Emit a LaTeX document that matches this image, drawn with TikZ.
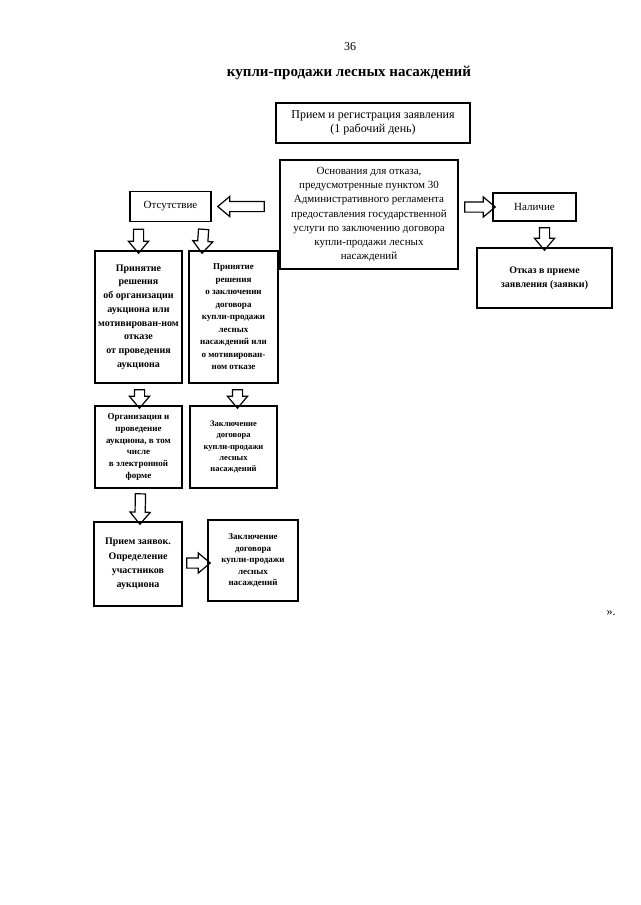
\documentclass[tikz,border=0pt]{standalone}
\usepackage{fontspec}
\setmainfont{Liberation Serif}
\usetikzlibrary{calc, shapes.arrows}

\tikzset{
  box/.style={draw, line width=1.6pt, align=center, inner sep=1pt},
  barrow/.style={single arrow, draw, line width=1.2pt, inner xsep=0pt, inner ysep=4.5pt,
    minimum width=19pt, single arrow head extend=5pt, single arrow tip angle=80,
    single arrow head indent=0pt}
}
% hollow block arrow between two points
\newcommand{\blockarrow}[2]{%
  \path let \p1=#1, \p2=#2, \n1={veclen(\x2-\x1,\y2-\y1)}, \n2={atan2(\y2-\y1,\x2-\x1)} in
    node[barrow, minimum height=\n1, rotate=\n2] at ($(\p1)!0.5!(\p2)$) {};}

\begin{document}
\begin{tikzpicture}[x=1pt, y=-1pt]
\useasboundingbox (0,0) rectangle (640,905);
\node[font=\fontsize{12}{14}\selectfont] (pagenum) at (350,47) {36};
\node[font=\bfseries\fontsize{15}{18}\selectfont] (title) at (349,73) {купли-продажи лесных насаждений};

\node[box, minimum width=194pt, minimum height=40pt, font=\fontsize{12}{14}\selectfont] (reg) at (373,123)
  {Прием и регистрация заявления\\(1 рабочий день)};
\node[box, minimum width=178pt, minimum height=109pt, font=\fontsize{11}{14.2}\selectfont] (basis) at (369,214.5)
  {Основания для отказа,\\предусмотренные пунктом 30\\Административного регламента\\предоставления государственной\\услуги по заключению договора\\купли-продажи лесных\\насаждений};
\node[box, minimum width=81pt, minimum height=30pt, font=\fontsize{11}{13}\selectfont] (absent) at (170.5,206.5) {Отсутствие};
\node[box, minimum width=83pt, minimum height=28pt, font=\fontsize{11}{13}\selectfont] (present) at (534.5,207) {Наличие};
\node[box, minimum width=135pt, minimum height=60pt, font=\bfseries\fontsize{10}{14}\selectfont] (refuse) at (544.5,278)
  {Отказ в приеме\\заявления (заявки)};

% left branch
\node[box, minimum width=87pt, minimum height=132pt, font=\bfseries\fontsize{10}{13.7}\selectfont] (decide1) at (138.5,317)
  {Принятие\\решения\\об организации\\аукциона или\\мотивирован-ном\\отказе\\от проведения\\аукциона};
\node[box, minimum width=89pt, minimum height=132pt, font=\bfseries\fontsize{9}{12.5}\selectfont] (decide2) at (233.5,317)
  {Принятие\\решения\\о заключении\\договора\\купли-продажи\\лесных\\насаждений или\\о мотивирован-\\ном отказе};
\node[box, minimum width=87pt, minimum height=82pt, font=\bfseries\fontsize{9}{11.8}\selectfont] (auction) at (138.5,447)
  {Организация и\\проведение\\аукциона, в том\\числе\\в электронной\\форме};
\node[box, minimum width=87pt, minimum height=82pt, font=\bfseries\fontsize{8.5}{11.3}\selectfont] (contract1) at (233.5,447)
  {Заключение\\договора\\купли-продажи\\лесных\\насаждений};
\node[box, minimum width=88pt, minimum height=84pt, font=\bfseries\fontsize{10}{14.3}\selectfont] (bids) at (138,564)
  {Прием заявок.\\Определение\\участников\\аукциона};
\node[box, minimum width=90pt, minimum height=81pt, font=\bfseries\fontsize{9}{11.5}\selectfont] (contract2) at (253,560.5)
  {Заключение\\договора\\купли-продажи\\лесных\\насаждений};

\node[font=\fontsize{12}{14}\selectfont] (closing) at (611,613) {».};

% arrows
\blockarrow{($(basis.west |- absent.east)+(-12pt,0)$)}{($(absent.east)+(9pt,0)$)}
\blockarrow{($(basis.east |- present.west)+(3pt,0)$)}{(present.west)}
\blockarrow{($(present.south -| refuse.north)+(0,-3pt)$)}{(refuse.north)}
\blockarrow{($(absent.south -| decide1.north)+(0,-4pt)$)}{(decide1.north)}
\blockarrow{($(absent.south east)+(-8pt,-4pt)$)}{($(decide2.north west)+(14pt,0)$)}
\blockarrow{($(decide1.south)+(1pt,-3pt)$)}{($(auction.north)+(1pt,0)$)}
\blockarrow{($(decide2.south)+(4pt,-3pt)$)}{($(contract1.north)+(4pt,0)$)}
\blockarrow{($(auction.south)+(2pt,-2pt)$)}{($(bids.north)+(2pt,0)$)}
\blockarrow{($(bids.east)+(1pt,1pt)$)}{($(bids.east -| contract2.west)+(0,1pt)$)}
\end{tikzpicture}
\end{document}
